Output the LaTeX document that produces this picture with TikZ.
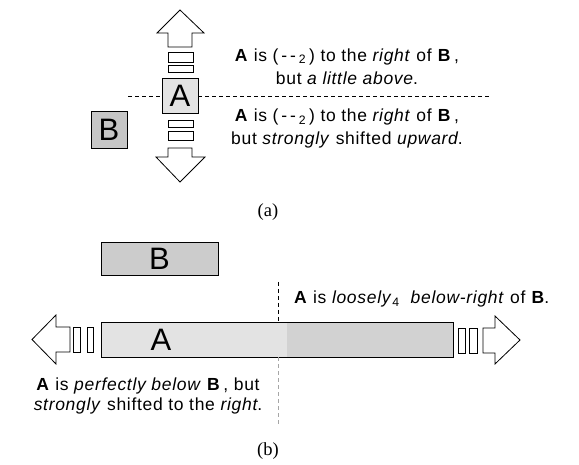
\documentclass[tikz,border=0pt]{standalone}
\usepackage{fontspec}
\setmainfont{Liberation Sans}
\newfontfamily\wide[LetterSpace=4]{Liberation Sans}
\newfontfamily\capfont{Liberation Serif}
\usetikzlibrary{positioning}

\tikzset{
  box/.style={draw, line width=0.8pt, inner sep=0pt, font=\fontsize{31}{31}\selectfont},
  lbl/.style={align=center, inner sep=0pt, font=\wide\fontsize{17.5}{23}\selectfont},
  blockarrow/.style={draw, fill=white, line width=0.8pt, line join=miter},
  gapbar/.style={draw, line width=0.8pt},
  split/.style={line width=0.8pt, dash pattern=on 4pt off 3pt},
  caption/.style={font=\capfont\fontsize{18.5}{18.5}\selectfont},
}

\begin{document}
\begin{tikzpicture}[x=1pt, y=-1pt]
  \useasboundingbox (0,0) rectangle (579,465);

  % (a): A above/below the horizontal split
  \draw[split] (128,96) coordinate (hl) -- (490,96) coordinate (hr);
  \node[box, fill=gray!22, minimum width=36, minimum height=35] (A1) at (180,95.5) {A};
  \node[box, fill=gray!45, minimum width=36, minimum height=37] (B1) at (109,129.5) {B};

  % up / down arrows with gaps
  \draw[blockarrow] (168,47) -- (168,33) -- (157,33) -- (180,10) -- (204,33) -- (192,33) -- (192,47) -- cycle;
  \draw[gapbar] (168,52) rectangle (193,62);
  \draw[gapbar] (168,65) rectangle (193,72);
  \draw[gapbar] (168,120) rectangle (193,127);
  \draw[gapbar] (168,131) rectangle (193,140);
  \draw[blockarrow] (168,148) -- (168,157) -- (156,157) -- (180,182) -- (205,157) -- (192,157) -- (192,148) -- cycle;

  \node[lbl] (above) at (347,66.5) {\textbf{A} is (\,-\,-\,\textsubscript{2}\,) to the \textit{right} of \textbf{B}\,,\\
    but \textit{a little above}.};
  \node[lbl] (upward) at (347,128.5) {\textbf{A} is (\,-\,-\,\textsubscript{2}\,) to the \textit{right} of \textbf{B}\,,\\
    but \textit{strongly} shifted \textit{upward}.};
  \node[caption] (capa) at (268,212) {(a)};

  % (b): long A below B
  \node[box, fill=gray!40, minimum width=117, minimum height=33] (B2) at (159.5,258.5) {B};
  \fill[gray!22] (101,322) rectangle (287,357);
  \fill[gray!35] (287,322) rectangle (453,357);
  \node[box, minimum width=352, minimum height=35] (A2) at (277,339.5) {};
  \node[font=\fontsize{31}{31}\selectfont, inner sep=0pt] (A2txt) at (161,339.5) {A};

  \coordinate (vt) at (278,282);
  \coordinate (vb) at (278,427);
  \draw[split] (vt) -- (vt |- A2.north);
  \draw[split, gray!70] (vb |- A2.south) -- (vb);

  % left / right arrows with gaps
  \draw[blockarrow] (70,327) -- (56,327) -- (56,315) -- (32,339.5) -- (56,364) -- (56,352) -- (70,352) -- cycle;
  \draw[gapbar] (73,327) rectangle (80,352);
  \draw[gapbar] (87,327) rectangle (93,352);
  \draw[gapbar] (458,328) rectangle (465,353);
  \draw[gapbar] (469,328) rectangle (477,353);
  \draw[blockarrow] (483,328) -- (495,328) -- (495,316) -- (520,340) -- (495,364) -- (495,353) -- (483,353) -- cycle;

  \node[lbl, anchor=west] (loose) at (294,299) {\textbf{A} is \textit{loosely}\textsubscript{4}\ \ \textit{below-right} of \textbf{B}.};
  \node[lbl, font=\wide\fontsize{17.5}{20}\selectfont] (below) at (148,396) {\textbf{A} is \textit{perfectly below} \textbf{B}\,, but\\
    \textit{strongly} shifted to the \textit{right}.};
  \node[caption] (capb) at (268,451) {(b)};
\end{tikzpicture}
\end{document}
